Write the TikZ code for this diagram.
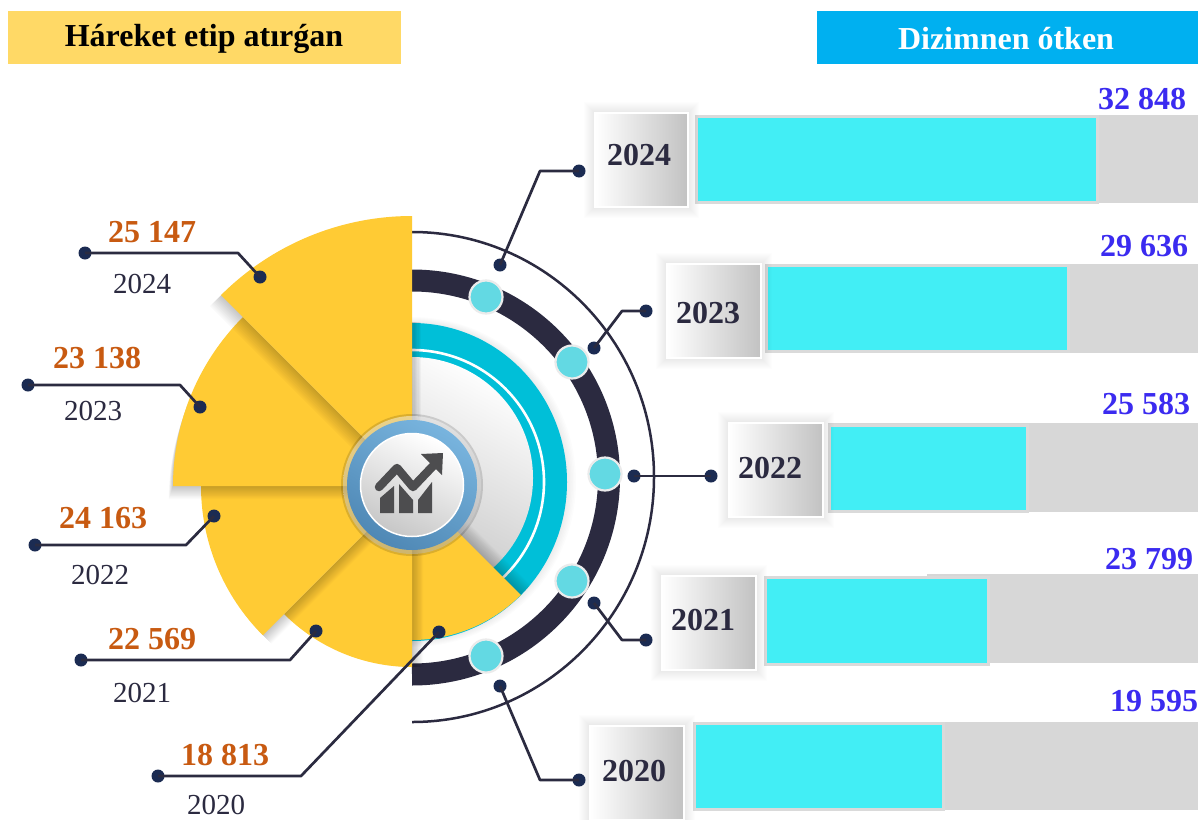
\documentclass[tikz,border=0pt]{standalone}
\usepackage{fontspec}
\setmainfont{Liberation Serif}
\definecolor{yel}{HTML}{FFCB34}
\definecolor{navy}{HTML}{1B2B52}
\definecolor{wire}{HTML}{2B2B40}
\definecolor{ringdark}{HTML}{2B2A40}
\definecolor{teal}{HTML}{00BFD8}
\definecolor{dotcyan}{HTML}{63D9E3}
\definecolor{barcyan}{HTML}{42EEF5}
\definecolor{bargray}{HTML}{D7D7D7}
\definecolor{barline}{HTML}{DADADA}
\definecolor{valorange}{HTML}{C85A11}
\definecolor{valblue}{HTML}{3B2BF0}
\definecolor{icongray}{HTML}{4D4D4F}
\definecolor{headblue}{HTML}{00B0F0}
\definecolor{headyel}{HTML}{FFD966}
\definecolor{blueA}{HTML}{78B4DE}
\definecolor{blueB}{HTML}{4F88B5}
\newcommand{\fsz}[1]{\fontsize{#1}{#1}\selectfont}
% r, start, end, shadow step x, shadow step y
\newcommand{\sectorpart}[5]{%
  \foreach \i in {1,...,14}{
    \fill[black,opacity=.015,shift={(\i*#4,\i*#5)}] (412,-486) -- ++(#2:#1) arc[start angle=#2,end angle=#3,radius=#1] -- cycle;
  }
  \fill[yel] (412,-486) -- ++(#2:#1) arc[start angle=#2,end angle=#3,radius=#1] -- cycle;
}
% x1,y1,x2,y2 of the face, name, label, label x, label y
\newcommand{\yearbox}[8]{%
  \foreach \g in {11,10,...,2}{
    \fill[black,opacity=.009] (#1-\g,-#2+\g) rectangle (#3+\g,-#4-\g);
  }
  \shade[left color=white,middle color=black!7,right color=black!24] (#1,-#2) rectangle (#3,-#4);
  \draw[white,line width=1.5] (#1,-#2) rectangle (#3,-#4);
  \node[yeartext] (#5) at (#7,-#8) {#6};
}
\newcommand{\barpart}[8]{%
  \fill[bargray] (#1,-#2) rectangle (1198,-#4);
  \fill[barline] (#5-3,-#6+3) rectangle (#7+3,-#8-3);
  \fill[barcyan] (#5,-#6) rectangle (#7,-#8);
}
\tikzset{
  wireline/.style={draw=wire,line width=2.7,line join=round},
  enddot/.style={circle,fill=navy,inner sep=0pt,minimum size=13},
  ringdot/.style={circle,fill=dotcyan,draw=white!92!black,line width=2.2,inner sep=0pt,minimum size=33},
  yeartext/.style={font=\bfseries\fsz{32},text=ringdark,inner sep=0pt},
  valtext/.style={font=\bfseries\fsz{32},text=valorange,inner sep=0pt},
  bluetext/.style={font=\bfseries\fsz{32},text=valblue,inner sep=0pt},
  plaintext/.style={font=\fsz{29},text=ringdark,inner sep=0pt},
  headtext/.style={font=\bfseries\fsz{32},inner sep=0pt},
}
\begin{document}
\begin{tikzpicture}[x=1pt,y=1pt]
\useasboundingbox (0,0) rectangle (1198,-819);
\fill[white] (0,0) rectangle (1198,-819);
% headers
\fill[headyel] (8,-11) rectangle (401,-64);
\node[headtext,text=black] (headleft) at (204,-39) {Háreket etip atırǵan};
\fill[headblue] (817,-11) rectangle (1198,-64);
\node[headtext,text=white] (headright) at (1006,-39) {Dizimnen ótken};
% bars
\barpart{695}{115}{1198}{203}{698}{118}{1096}{201}
\barpart{765}{264}{1198}{353}{768}{267}{1067}{350}
\barpart{828}{423}{1198}{512}{831}{427}{1026}{510}
\barpart{927}{574}{1198}{663}{767}{579}{987}{663}
\barpart{693}{722}{1198}{810}{696}{725}{942}{808}
% year boxes
\yearbox{595}{113}{688}{207}{y24}{2024}{639}{155}
\yearbox{667}{264}{761}{358}{y23}{2023}{708}{313}
\yearbox{729}{423}{823}{517}{y22}{2022}{770}{468}
\yearbox{662}{576}{756}{670}{y21}{2021}{703}{620}
\yearbox{590}{726}{684}{820}{y20}{2020}{634}{771}
% values over the bars
\node[bluetext] (v24) at (1142,-99) {32 848};
\node[bluetext] (v23) at (1144,-246) {29 636};
\node[bluetext] (v22) at (1146,-404) {25 583};
\node[bluetext] (v21) at (1149,-559) {23 799};
\node[bluetext] (v20) at (1154,-701) {19 595};
% arcs
\draw[ringdark,line width=2.5] (412,-232) arc[start angle=90,end angle=-90,x radius=242,y radius=245];
\draw[ringdark,line width=22] (412,-280.5) arc[start angle=90,end angle=-90,radius=197];
\foreach \i in {1,...,6}{
  \fill[black,opacity=.012] (412,-323+\i) arc[start angle=90,end angle=-90,x radius=155+\i*1.5,y radius=159+\i] -- cycle;
}
\fill[teal] (412,-323) arc[start angle=90,end angle=-90,x radius=155,y radius=159] -- cycle;
\draw[white,line width=2.6] (412,-350) arc[start angle=90,end angle=-60,radius=132];
\begin{scope}
  \clip (412,-340) rectangle (560,-620);
  \shade[top color=white,bottom color=black!22,shading angle=-28] (412,-357) arc[start angle=90,end angle=-90,radius=121] -- cycle;
\end{scope}
\foreach \i in {1,...,7}{
  \fill[black,opacity=.03] (412,-322) rectangle (412+\i*1.3,-486);
}
% ring markers
\node[ringdot] (r24) at (486,-297) {};
\node[ringdot] (r23) at (572,-362) {};
\node[ringdot] (r22) at (605,-474) {};
\node[ringdot] (r21) at (572,-581) {};
\node[ringdot] (r20) at (486,-656) {};
% sectors
\sectorpart{154}{270}{315}{.7}{.7}
\sectorpart{181}{225}{270}{.8}{0}
\sectorpart{211}{180}{225}{.6}{-.6}
\sectorpart{239}{135}{180}{-.3}{-.95}
\sectorpart{270}{90}{135}{-.8}{-.8}
% centre
\fill[black,opacity=.14] (412,-485) circle[radius=71];
\shade[top color=white,bottom color=black!25,opacity=.45] (412,-485) circle[radius=69];
\shade[left color=blueA,right color=blueB,shading angle=-30] (412,-485) circle[radius=65];
\shade[left color=white,right color=black!22,shading angle=-25] (412,-485) circle[radius=51.5];
\draw[white,line width=1.5] (412,-485) circle[radius=51.5];
% icon
\fill[icongray] (380,-513) -- (380,-498) -- (394,-486) -- (394,-513) -- cycle;
\fill[icongray] (399,-513) -- (399,-484) -- (413,-500) -- (413,-513) -- cycle;
\fill[icongray] (418,-513) -- (418,-500) -- (432,-482) -- (432,-513) -- cycle;
\draw[icongray,line width=8.5,line cap=round,line join=round] (379,-487) -- (397,-468) -- (413,-487) -- (433,-466);
\fill[icongray] (421,-454) -- (443,-453) -- (442,-475) -- cycle;
% dots and connectors on the left
\node[enddot] (la24) at (85,-253) {}; \node[enddot] (lb24) at (260,-277) {};
\node[enddot] (la23) at (28,-385) {}; \node[enddot] (lb23) at (200,-407) {};
\node[enddot] (la22) at (35,-545) {}; \node[enddot] (lb22) at (214,-516) {};
\node[enddot] (la21) at (81,-660) {}; \node[enddot] (lb21) at (316,-631) {};
\node[enddot] (la20) at (158,-776) {}; \node[enddot] (lb20) at (439,-632) {};
\coordinate (le24) at (238,-253);
\coordinate (le23) at (180,-385);
\coordinate (le22) at (186,-545);
\coordinate (le21) at (290,-660);
\coordinate (le20) at (301,-776);
\draw[wireline] (la24.center) -- (le24) -- (lb24.center);
\draw[wireline] (la23.center) -- (le23) -- (lb23.center);
\draw[wireline] (la22.center) -- (le22) -- (lb22.center);
\draw[wireline] (la21.center) -- (le21) -- (lb21.center);
\draw[wireline] (la20.center) -- (le20) -- (lb20.center);
% dots and connectors on the right
\node[enddot] (ra24) at (500,-265) {}; \node[enddot] (rb24) at (579,-171) {};
\node[enddot] (ra23) at (594,-348) {}; \node[enddot] (rb23) at (646,-311) {};
\node[enddot] (ra22) at (634,-476) {}; \node[enddot] (rb22) at (711,-476) {};
\node[enddot] (ra21) at (594,-603) {}; \node[enddot] (rb21) at (646,-640) {};
\node[enddot] (ra20) at (500,-686) {}; \node[enddot] (rb20) at (579,-780) {};
\coordinate (re24) at (540,-171);
\coordinate (re23) at (622,-311);
\coordinate (re21) at (622,-640);
\coordinate (re20) at (540,-780);
\draw[wireline] (ra24.center) -- (re24) -- (rb24.center);
\draw[wireline] (ra23.center) -- (re23) -- (rb23.center);
\draw[wireline] (ra22.center) -- (rb22.center);
\draw[wireline] (ra21.center) -- (re21) -- (rb21.center);
\draw[wireline] (ra20.center) -- (re20) -- (rb20.center);
% left labels
\node[valtext] (lv24) at (152,-232) {25 147};
\node[plaintext] (ly24) at (142,-284) {2024};
\node[valtext] (lv23) at (97,-358) {23 138};
\node[plaintext] (ly23) at (93,-411) {2023};
\node[valtext] (lv22) at (103,-518) {24 163};
\node[plaintext] (ly22) at (100,-575) {2022};
\node[valtext] (lv21) at (152,-639) {22 569};
\node[plaintext] (ly21) at (142,-693) {2021};
\node[valtext] (lv20) at (225,-755) {18 813};
\node[plaintext] (ly20) at (216,-805) {2020};
\end{tikzpicture}
\end{document}
